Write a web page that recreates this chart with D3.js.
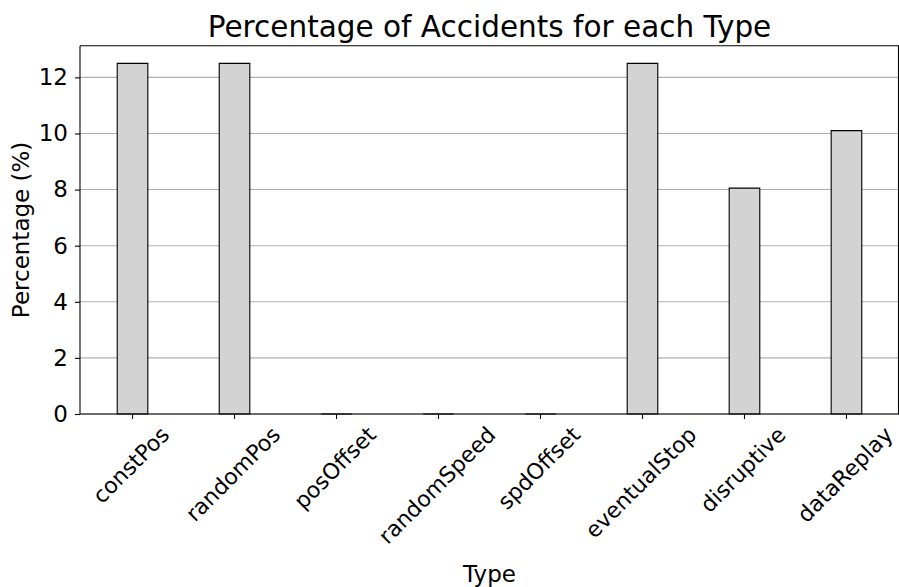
<!DOCTYPE html>
<html><head><meta charset="utf-8">
<script src="https://cdn.jsdelivr.net/npm/d3@7"></script>
<style>body{margin:0;background:#fff}svg{display:block;font-family:"DejaVu Sans",sans-serif}</style>
</head><body>
<svg id="chart" width="899" height="587"></svg>
<script>
const categories = ["constPos","randomPos","posOffset","randomSpeed","spdOffset","eventualStop","disruptive","dataReplay"];
const percentages = [12.5, 12.5, 0, 0, 0, 12.5, 8.05, 10.1];
const yTicks = [0, 2, 4, 6, 8, 10, 12];
const title = "Percentage of Accidents for each Type";
const xLabel = "Type";
const yLabel = "Percentage (%)";

const svg = d3.select("#chart");
const L = 80, R = 899, T = 45.8, B = 414;
const barW = 0.3;
const n = categories.length;
const pad = (n - 1 + barW) * 0.05;
const x = d3.scaleLinear().domain([-barW/2 - pad, n - 1 + barW/2 + pad]).range([L, R]);
const yMax = d3.max(percentages) * 1.05;
const y = d3.scaleLinear().domain([0, yMax]).range([B, T]);
const fs = 23;
const fsx = 22;

// grid
svg.append("g").selectAll("line").data(yTicks).join("line")
  .attr("x1", L).attr("x2", R).attr("y1", d => y(d)).attr("y2", d => y(d))
  .attr("stroke", "#b0b0b0").attr("stroke-width", 1.1);

// bars
svg.append("g").selectAll("path").data(percentages).join("path")
  .attr("d", (d, i) => {
    const x0 = x(i - barW/2), x1 = x(i + barW/2);
    return `M${x0},${y(0)}L${x0},${y(d)}L${x1},${y(d)}L${x1},${y(0)}Z`;
  })
  .attr("fill", "#d3d3d3").attr("stroke", "#000").attr("stroke-width", 1.1);

// spines
const sp = svg.append("g").attr("stroke", "#000").attr("stroke-width", 1.1).attr("fill", "none");
sp.append("line").attr("x1", L).attr("x2", L).attr("y1", T).attr("y2", B);
sp.append("line").attr("x1", L).attr("x2", R).attr("y1", B).attr("y2", B);
sp.append("line").attr("x1", L).attr("x2", R).attr("y1", T).attr("y2", T);
sp.append("line").attr("x1", R - 0.5).attr("x2", R - 0.5).attr("y1", T).attr("y2", B);

// y axis
const yAxis = d3.axisLeft(y).tickValues(yTicks).tickSize(5).tickPadding(7).tickFormat(d3.format("d"));
const ga = svg.append("g").attr("transform", `translate(${L},0)`).call(yAxis);
ga.select(".domain").remove();
ga.selectAll(".tick line").attr("stroke", "#000").attr("stroke-width", 1.1);
ga.selectAll(".tick text").attr("font-size", fs).attr("font-family", "DejaVu Sans").attr("fill", "#000");

// x axis ticks
const xa = svg.append("g");
xa.selectAll("line").data(categories).join("line")
  .attr("x1", (d, i) => x(i)).attr("x2", (d, i) => x(i))
  .attr("y1", B).attr("y2", B + 5).attr("stroke", "#000").attr("stroke-width", 1.1);
xa.selectAll("text").data(categories).join("text")
  .text(d => d)
  .attr("font-size", fsx).attr("fill", "#000")
  .attr("text-anchor", "middle").attr("dominant-baseline", "central")
  .each(function(d, i) {
    const w = this.getComputedTextLength();
    const h = (w + fsx * 1.0) / Math.SQRT2;
    const cx = x(i) - 1.5, cy = B + 9 + h / 2;
    d3.select(this).attr("transform", `translate(${cx},${cy}) rotate(-45)`);
  });

// title and labels
svg.append("text").attr("x", (L + R) / 2).attr("y", 37).attr("text-anchor", "middle")
  .attr("font-size", 29.5).attr("fill", "#000").text(title);
svg.append("text").attr("x", (L + R) / 2).attr("y", 582).attr("text-anchor", "middle")
  .attr("font-size", fs).attr("fill", "#000").text(xLabel);
svg.append("text").attr("transform", `translate(29,${(T + B) / 2}) rotate(-90)`).attr("text-anchor", "middle")
  .attr("font-size", fs).attr("fill", "#000").text(yLabel);
</script>
</body></html>
